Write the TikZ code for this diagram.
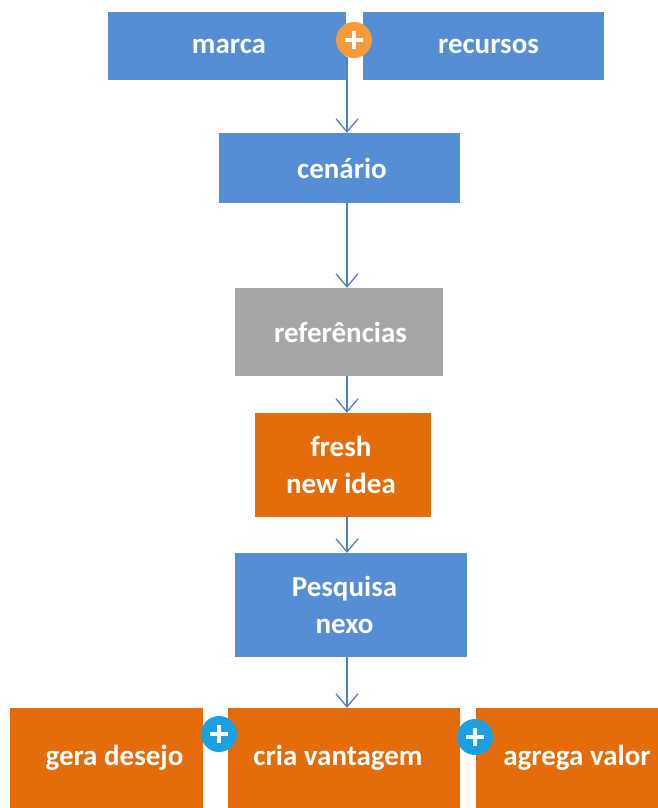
\documentclass[tikz,border=0pt]{standalone}
\usepackage{fontspec}
\setmainfont{Carlito}
\usetikzlibrary{arrows.meta,calc}
\definecolor{boxblue}{HTML}{558ED5}
\definecolor{boxorange}{HTML}{E46C0A}
\definecolor{boxgray}{HTML}{A6A6A6}
\definecolor{arrowblue}{HTML}{4F81BD}
\definecolor{plusorange}{HTML}{F79A3A}
\definecolor{plusblue}{HTML}{1BA1E2}
\tikzset{
  box/.style={draw=none, inner sep=0pt},
  boxtext/.style={inner sep=0pt, text=white, align=center,
    font=\fontsize{29}{37}\selectfont\bfseries},
  flow/.style={draw=arrowblue, line width=1.3pt, -{Straight Barb[length=13pt,width=22pt,line width=1.3pt]}},
  plusbadge/.style={circle, minimum size=36pt, inner sep=0pt},
}
% box from (x1,y1) to (x2,y2), y downward; #5 name, #6 fill, #7 text, #8 text x-offset
\newcommand{\boxat}[8]{%
  \node[box, fill=#6, minimum width={#3-#1}, minimum height={#4-#2}]
    (#5) at ({(#1+#3)/2},{(#2+#4)/2}) {};
  \node[boxtext] (#5-text) at ($(#5.center)+(#8,0)$) {#7};}
\newcommand{\plusat}[4]{%
  \node[plusbadge, fill=#4] (#1) at (#2,#3) {};
  \draw[white, line width=4.5pt] ($(#1)+(-9,0)$) -- ($(#1)+(9,0)$);
  \draw[white, line width=4.5pt] ($(#1)+(0,-9)$) -- ($(#1)+(0,9)$);}
\begin{document}
\begin{tikzpicture}[x=1pt, y=-1pt]
\useasboundingbox (0,0) rectangle (658,808);
\boxat{108}{12}{346}{80}{marca}{boxblue}{marca}{2}
\boxat{363}{12}{604}{80}{recursos}{boxblue}{recursos}{5}
\boxat{219}{133}{460}{203}{cenario}{boxblue}{cenário}{2.5}
\boxat{235}{288}{443}{376}{ref}{boxgray}{referências}{1.5}
\boxat{255}{413}{431}{517}{fresh}{boxorange}{fresh\\new idea}{-2}
\boxat{235}{553}{467}{657}{pesq}{boxblue}{Pesquisa\\nexo}{-6.5}
\boxat{10}{708}{203}{808}{gera}{boxorange}{gera desejo}{8}
\boxat{228}{708}{460}{808}{cria}{boxorange}{cria vantagem}{-6}
\boxat{476}{708}{658}{808}{agrega}{boxorange}{agrega valor}{10}

\coordinate (topjoin) at (347,80);
\draw[draw=arrowblue, line width=1.3pt] (347,57) -- (topjoin);
\plusat{p1}{354}{40}{plusorange}
\plusat{p2}{219}{734}{plusblue}
\plusat{p3}{475}{737}{plusblue}

\draw[flow] (topjoin) -- (cenario.north -| topjoin);
\draw[flow] (cenario.south -| topjoin) -- (ref.north -| topjoin);
\draw[flow] (ref.south -| topjoin) -- (fresh.north -| topjoin);
\draw[flow] (fresh.south -| topjoin) -- (pesq.north -| topjoin);
\draw[flow] (pesq.south -| topjoin) -- (cria.north -| topjoin);
\end{tikzpicture}
\end{document}
